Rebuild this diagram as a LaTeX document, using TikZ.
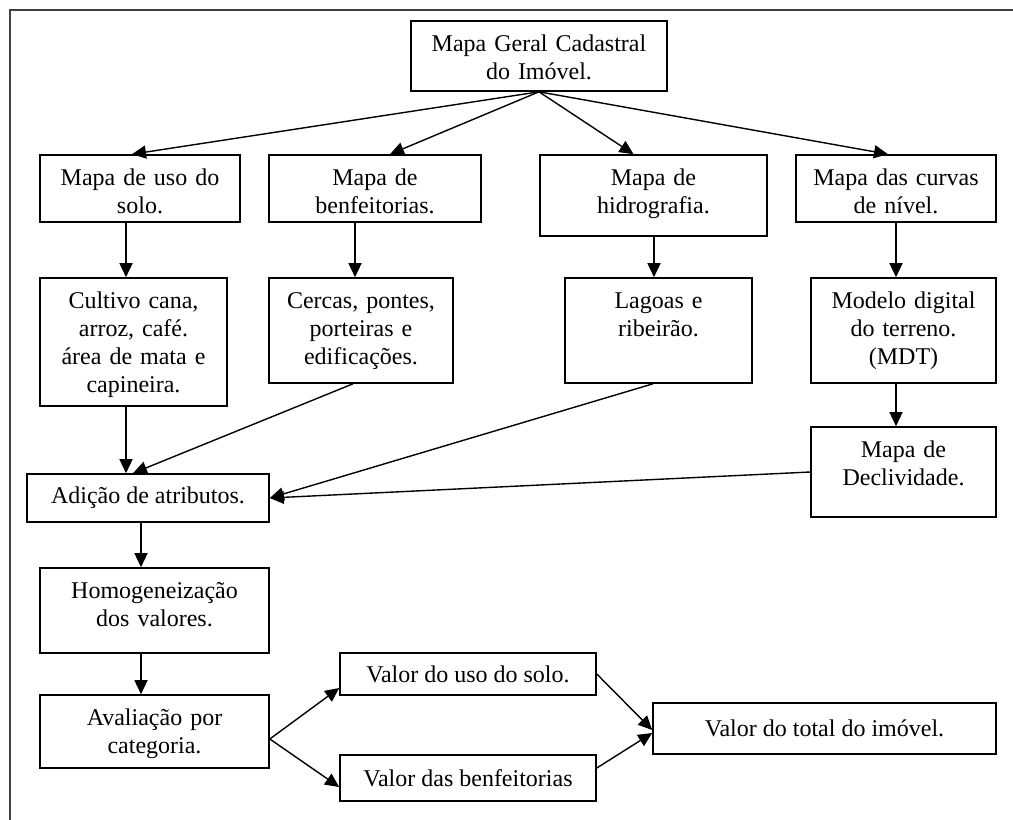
\documentclass[tikz,border=0pt]{standalone}
\usepackage{fontspec}
\setmainfont{Liberation Serif}
\usetikzlibrary{arrows.meta}

\begin{document}
\begin{tikzpicture}[
  x=0.5pt, y=-0.5pt,
  every node/.style={rectangle, draw=black, line width=0.8pt, align=center, font=\fontsize{12}{14}\selectfont, inner xsep=2pt, inner ysep=0pt},
  tallbox/.style={text height=15pt, text depth=#1},
  arrow/.style={-{Triangle[length=7pt, width=6.5pt]}, line width=0.7pt}
]
\useasboundingbox (0,0) rectangle (1013,820);
\draw[black!75, line width=0.9pt] (10,820) -- (10,10) -- (1013,10);

\node (geral) [tallbox=20pt, text width=124pt] at (539,56) {Mapa Geral Cadastral\\do Imóvel.};

\node (uso) [tallbox=18.5pt, text width=96pt] at (140,188.5) {Mapa de uso do\\solo.};
\node (benf) [tallbox=18.5pt, text width=102pt] at (375,188.5) {Mapa de\\benfeitorias.};
\node (hidro) [tallbox=25.5pt, text width=109.5pt] at (653.5,195.5) {Mapa de\\hidrografia.};
\node (curvas) [tallbox=18.5pt, text width=96pt] at (896,188.5) {Mapa das curvas\\de nível.};

\node (cultivo) [tallbox=49pt, text width=89.5pt] at (133.5,342) {Cultivo cana,\\arroz, café.\\área de mata e\\capineira.};
\node (cercas) [tallbox=37.5pt, text width=88pt] at (361,330.5) {Cercas, pontes,\\porteiras e\\edificações.};
\node (lagoas) [tallbox=37.5pt, text width=89.5pt] at (658.5,330.5) {Lagoas e\\ribeirão.};
\node (modelo) [tallbox=37.5pt, text width=88.5pt] at (903.5,330.5) {Modelo digital\\do terreno.\\(MDT)};
\node (decliv) [tallbox=30pt, text width=88.5pt] at (903.5,472) {Mapa de\\Declividade.};

\node (adicao) [minimum width=121pt, minimum height=24pt] at (148,498) {Adição de atributos.};
\node (homog) [tallbox=27.5pt, text width=110.5pt] at (154.5,610.5) {Homogeneização\\dos valores.};
\node (aval) [tallbox=21.5pt, text width=110.5pt] at (154.5,731.5) {Avaliação por\\categoria.};

\node (vuso) [minimum width=128pt, minimum height=21pt] at (468,674) {Valor do uso do solo.};
\node (vbenf) [minimum width=128pt, minimum height=23pt] at (468,778) {Valor das benfeitorias};
\node (vtotal) [minimum width=171.5pt, minimum height=25.5pt] at (824.5,728.5) {Valor do total do imóvel.};

\draw[arrow] (geral.south) -- ([xshift=-4pt]uso.north);
\draw[arrow] (geral.south) -- ([xshift=7.5pt]benf.north);
\draw[arrow] (geral.south) -- ([xshift=-10pt]hidro.north);
\draw[arrow] (geral.south) -- ([xshift=-4pt]curvas.north);

\draw[arrow] ([xshift=-7pt]uso.south) -- ([xshift=-7pt]uso.south |- cultivo.north);
\draw[arrow] ([xshift=-10pt]benf.south) -- ([xshift=-10pt]benf.south |- cercas.north);
\draw[arrow] ([xshift=0.25pt]hidro.south) -- ([xshift=0.25pt]hidro.south |- lagoas.north);
\draw[arrow] (curvas.south) -- (curvas.south |- modelo.north);
\draw[arrow] ([xshift=-3.75pt]modelo.south) -- ([xshift=-3.75pt]modelo.south |- decliv.north);

\draw[arrow] ([xshift=-3.75pt]cultivo.south) -- ([xshift=-3.75pt]cultivo.south |- adicao.north);
\draw[arrow] ([xshift=-4pt]cercas.south) -- ([xshift=-7.5pt]adicao.north);
\draw[arrow] ([xshift=-2.75pt]lagoas.south) -- (adicao.east);
\draw[arrow] (decliv.west) -- (adicao.east);

\draw[arrow] ([xshift=-3.5pt]adicao.south) -- ([xshift=-3.5pt]adicao.south |- homog.north);
\draw[arrow] ([xshift=-6.75pt]homog.south) -- ([xshift=-6.75pt]homog.south |- aval.north);

\draw[arrow] ([yshift=-3.75pt]aval.east) -- ([yshift=-7pt]vuso.west);
\draw[arrow] ([yshift=-3.75pt]aval.east) -- ([yshift=-4.5pt]vbenf.west);
\draw[arrow] (vuso.east) -- ([yshift=-0.75pt]vtotal.west);
\draw[arrow] ([yshift=5pt]vbenf.east) -- ([yshift=-2.25pt]vtotal.west);

\end{tikzpicture}
\end{document}
